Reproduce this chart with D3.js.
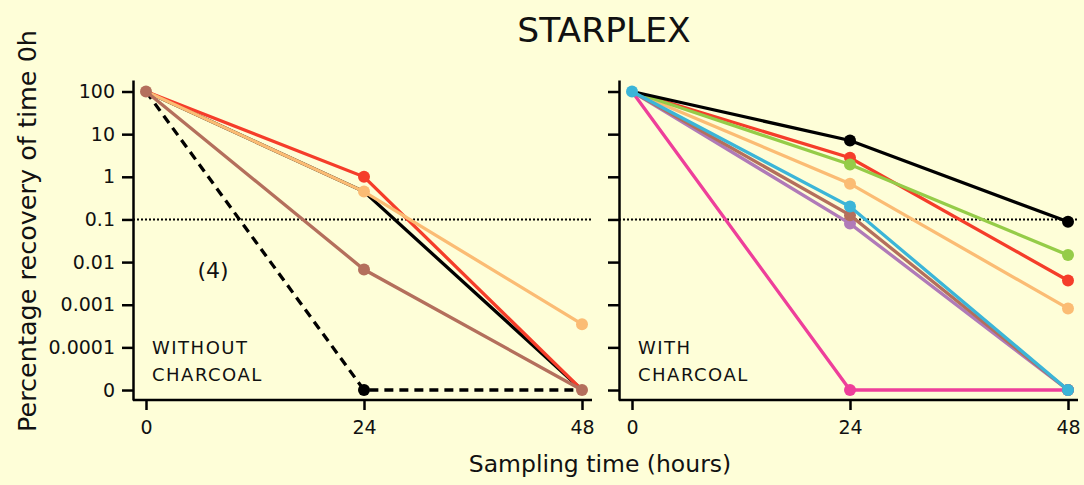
<!DOCTYPE html>
<html>
<head>
<meta charset="utf-8">
<script src="https://cdn.jsdelivr.net/npm/d3@7"></script>
<style>
  html, body { margin: 0; padding: 0; background: #fefed8; }
  svg { display: block; }
  text { font-family: "DejaVu Sans", sans-serif; fill: #111; }
</style>
</head>
<body>
<div class="viz"></div>
<script>
// data: sampling hours and percentage recovery (0 drawn at the bottom "0" line = 1e-5)
var hours = [0, 24, 48];
var yTickValues = [100, 10, 1, 0.1, 0.01, 0.001, 0.0001, 0.00001];
var yTickLabels = ['100', '10', '1', '0.1', '0.01', '0.001', '0.0001', '0'];
var xTickValues = [0, 24, 48];
var ZERO = 0.00001;

// without charcoal
var noCharcoalDashed = [100, 0, 0];
var noCharcoalBlack = [100, 0.45, 0];
var noCharcoalRed = [100, 1.0, 0];
var noCharcoalOrange = [100, 0.45, 0.00035];
var noCharcoalBrown = [100, 0.0067, 0];

// with charcoal
var charcoalPink = [100, 0, 0];
var charcoalOrange = [100, 0.69, 0.00082];
var charcoalRed = [100, 2.8, 0.0037];
var charcoalGreen = [100, 1.95, 0.0146];
var charcoalPurple = [100, 0.08, 0];
var charcoalBrown = [100, 0.126, 0];
var charcoalCyan = [100, 0.2, 0];
var charcoalBlack = [100, 7.1, 0.088];

var leftSeries = [
  { values: noCharcoalDashed, color: '#000', dashed: true, dots: [1] },
  { values: noCharcoalBlack, color: '#000', dots: [] },
  { values: noCharcoalRed, color: '#f53d2a', dots: [1] },
  { values: noCharcoalOrange, color: '#fbbc74', dots: [1, 2] },
  { values: noCharcoalBrown, color: '#b46f5c', dots: [0, 1, 2] }
];
var rightSeries = [
  { values: charcoalPink, color: '#ee3f9a', dots: [1, 2] },
  { values: charcoalOrange, color: '#fbbc74', dots: [1, 2] },
  { values: charcoalRed, color: '#f53d2a', dots: [1, 2] },
  { values: charcoalGreen, color: '#95cc48', dots: [1, 2] },
  { values: charcoalPurple, color: '#b07ab8', dots: [1, 2] },
  { values: charcoalBrown, color: '#b46f5c', dots: [1, 2] },
  { values: charcoalBlack, color: '#000', dots: [1, 2] },
  { values: charcoalCyan, color: '#3bb5d8', dots: [0, 1, 2] }
];

var W = 1084, H = 485;
var svg = d3.select('div.viz').append('svg')
  .attr('width', W).attr('height', H);

// shared y scale (log, with 0 mapped to 1e-5)
var yScale = d3.scaleLog()
  .domain([Math.pow(10, -5.234), Math.pow(10, 2.27)])
  .range([400, 80]);

function drawPanel(x0, series, labelLines, showLabels) {
  var xScale = d3.scaleLinear().domain([0, 48]).range([x0 + 13, x0 + 449]);
  var g = svg.append('g');

  // threshold line at 0.1
  g.append('line')
    .attr('x1', x0).attr('x2', x0 + 458)
    .attr('y1', yScale(0.1)).attr('y2', yScale(0.1))
    .attr('stroke', '#000').attr('stroke-width', 2)
    .attr('stroke-dasharray', '2,2');

  var line = d3.line()
    .x(function(d, i) { return xScale(hours[i]); })
    .y(function(d) { return yScale(d > 0 ? d : ZERO); });

  series.forEach(function(s) {
    g.append('path')
      .attr('d', line(s.values))
      .attr('fill', 'none')
      .attr('stroke', s.color)
      .attr('stroke-width', 3.3)
      .attr('stroke-dasharray', s.dashed ? '9,6' : null);
    g.selectAll(null)
      .data(s.dots)
      .enter().append('circle')
      .attr('cx', function(i) { return xScale(hours[i]); })
      .attr('cy', function(i) { var v = s.values[i]; return yScale(v > 0 ? v : ZERO); })
      .attr('r', 6)
      .attr('fill', s.color);
  });

  // y axis
  var yAxis = g.append('g')
    .attr('transform', 'translate(' + x0 + ',0)')
    .call(d3.axisLeft(yScale)
      .tickValues(yTickValues)
      .tickSize(11)
      .tickSizeOuter(0)
      .tickPadding(7)
      .tickFormat(function(d, i) { return showLabels ? yTickLabels[i] : ''; }));

  // x axis
  var xAxis = g.append('g')
    .attr('transform', 'translate(0,400)')
    .call(d3.axisBottom(xScale)
      .tickValues(xTickValues)
      .tickSize(10)
      .tickSizeOuter(0)
      .tickPadding(11));
  xAxis.select('.domain').attr('d', 'M' + x0 + ',0H' + (x0 + 459));

  [yAxis, xAxis].forEach(function(a) {
    a.select('.domain').attr('stroke', '#000').attr('stroke-width', 2.5);
    a.selectAll('.tick line').attr('stroke', '#000').attr('stroke-width', 2.5);
    a.selectAll('.tick text')
      .style('font-family', '"DejaVu Sans", sans-serif')
      .style('font-size', '19px')
      .attr('fill', '#111');
  });

  // panel label
  g.append('text')
    .attr('x', x0 + 19).attr('y', 354)
    .style('font-size', '18px')
    .style('letter-spacing', '1.5px')
    .selectAll('tspan')
    .data(labelLines)
    .enter().append('tspan')
    .attr('x', x0 + 19)
    .attr('dy', function(d, i) { return i ? 27 : 0; })
    .text(function(d) { return d; });
}

drawPanel(133, leftSeries, ['WITHOUT', 'CHARCOAL'], true);
drawPanel(619, rightSeries, ['WITH', 'CHARCOAL'], false);

svg.append('text')
  .attr('x', 213).attr('y', 278)
  .attr('text-anchor', 'middle')
  .style('font-size', '22px')
  .text('(4)');

svg.append('text')
  .attr('x', 604).attr('y', 42)
  .attr('text-anchor', 'middle')
  .style('font-size', '34.5px')
  .text('STARPLEX');

svg.append('text')
  .attr('x', 600).attr('y', 472)
  .attr('text-anchor', 'middle')
  .style('font-size', '23.5px')
  .text('Sampling time (hours)');

svg.append('text')
  .attr('transform', 'translate(36,231) rotate(-90)')
  .attr('text-anchor', 'middle')
  .style('font-size', '25.5px')
  .text('Percentage recovery of time 0h');
</script>
</body>
</html>
